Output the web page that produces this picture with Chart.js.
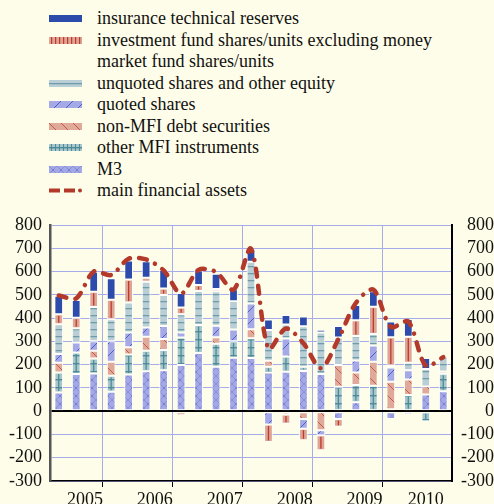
<!DOCTYPE html>
<html>
<head>
<meta charset="utf-8">
<script src="https://cdn.jsdelivr.net/npm/chart.js@4.4.1/dist/chart.umd.min.js"></script>
<style>
  html, body { margin: 0; padding: 0; background: #FEFDE9; }
  #wrap { position: relative; width: 494px; height: 504px; overflow: hidden; background: #FEFDE9;
          font-family: "Liberation Serif", "Times New Roman", serif; color: #111; }
  #legend { position: absolute; left: 0; top: 8px; font-size: 18px; line-height: 21.5px; }
  .row { position: relative; padding-left: 97px; white-space: nowrap; }
  .row canvas { position: absolute; left: 49px; top: 7px; }
  #chartBox { position: absolute; left: 0; top: 200px; width: 494px; height: 304px; }
</style>
</head>
<body>
<div id="wrap">
  <div id="legend"></div>
  <div id="chartBox"><canvas id="flowsChart"></canvas></div>
</div>
<script>
// quarterly flows, EUR billions
const quarters = [
  '2005 Q1', '2005 Q2', '2005 Q3', '2005 Q4',
  '2006 Q1', '2006 Q2', '2006 Q3', '2006 Q4',
  '2007 Q1', '2007 Q2', '2007 Q3', '2007 Q4',
  '2008 Q1', '2008 Q2', '2008 Q3', '2008 Q4',
  '2009 Q1', '2009 Q2', '2009 Q3', '2009 Q4',
  '2010 Q1', '2010 Q2', '2010 Q3'
];
const m3          = [80, 160, 162, 83, 158, 172, 176, 198, 250, 191, 230, 229, 166, 169, 173, 160, -34, 38, 0, -34, -14, 72, 86];
const otherMfi    = [86, 92, 64, 69, 86, 88, 87, 119, 120, 99, 70, 84, 25, 66, 18, 0, 105, 74, 109, 8, 69, -44, 75];
const nonMfiDebt  = [42, 0, 34, 60, 31, 60, 47, -18, 0, 28, -13, 39, 26, -14, -34, -82, 93, 54, 103, 118, 67, 35, 10];
const quoted      = [38, 43, 41, 88, 63, 40, 56, 21, 0, 49, 51, 111, -57, 77, -41, -21, 0, 52, 70, 62, 40, 0, 0];
const unquoted    = [128, 61, 147, 95, 129, 196, 133, 78, 146, 148, 121, 179, 132, 60, 174, 178, 119, 105, 50, 8, 32, 74, 63];
const invFund     = [42, 46, 65, 84, 99, 17, 28, 29, 26, 10, 0, 0, -75, -40, -50, -65, -33, 68, 117, 122, 112, 0, 0];
const insurance   = [80, 76, 86, 92, 81, 71, 80, 63, 63, 65, 52, 53, 45, 41, 42, 12, 49, 65, 66, 67, 76, 47, 0];
const mainAssets  = [497, 485, 600, 585, 655, 652, 605, 505, 607, 598, 522, 698, 268, 355, 292, 185, 310, 465, 522, 362, 385, 195, 232];

const yMin = -300, yMax = 800, yStep = 100;

const FONT = '"Liberation Serif", "Times New Roman", serif';
const gridColour = '#A6ABEA';
const lineColour = '#B3392B';

function makePattern(bg, size, draw) {
  const c = document.createElement('canvas');
  c.width = size; c.height = size;
  const g = c.getContext('2d');
  g.fillStyle = bg;
  g.fillRect(0, 0, size, size);
  if (draw) draw(g, size);
  return g.createPattern(c, 'repeat');
}
function diag(g, s, dir, colour, w) {
  g.strokeStyle = colour; g.lineWidth = w;
  g.beginPath();
  for (const o of [-s, 0, s]) {
    if (dir > 0) { g.moveTo(o, s); g.lineTo(o + s, 0); }
    else { g.moveTo(o, 0); g.lineTo(o + s, s); }
  }
  g.stroke();
}

const fills = {
  m3: makePattern('#A4A9E6', 8, (g, s) => {
    diag(g, s, 1, '#8189D8', 0.8); diag(g, s, -1, '#8189D8', 0.8);
    g.fillStyle = '#4453B8'; g.fillRect(3.5, 3.5, 1, 1);
  }),
  otherMfi: makePattern('#A8C7CD', 8, (g, s) => {
    g.fillStyle = '#4E8B96'; g.fillRect(0, 3, s, 1.4);
  }),
  nonMfi: makePattern('#E0AA9B', 12, (g, s) => diag(g, s, -1, '#C65A46', 1)),
  quoted: makePattern('#A5AAE6', 12, (g, s) => diag(g, s, 1, '#4F60C5', 1)),
  unquoted: makePattern('#BACED6', 7, (g, s) => {
    g.fillStyle = '#6F9CA9'; g.fillRect(0, 3, s, 1.3);
  }),
  invFund: '#DDA595',
  insurance: '#2C4BAA'
};

const series = [
  { key: 'insurance', label: 'insurance technical reserves', data: insurance },
  { key: 'invFund', label: 'investment fund shares/units excluding money market fund shares/units', data: invFund, centre: '#C0392B' },
  { key: 'unquoted', label: 'unquoted shares and other equity', data: unquoted },
  { key: 'quoted', label: 'quoted shares', data: quoted },
  { key: 'nonMfi', label: 'non-MFI debt securities', data: nonMfiDebt },
  { key: 'otherMfi', label: 'other MFI instruments', data: otherMfi, centre: '#4E8B96' },
  { key: 'm3', label: 'M3', data: m3 }
];

// legend (HTML text, canvas swatches)
const legend = document.getElementById('legend');
function addRow(text, paint) {
  const row = document.createElement('div');
  row.className = 'row';
  const sw = document.createElement('canvas');
  sw.width = 34; sw.height = 8;
  row.appendChild(sw);
  row.appendChild(document.createTextNode(text));
  legend.appendChild(row);
  paint(sw.getContext('2d'));
}
series.forEach(s => {
  if (s.key === 'invFund') {
    addRow('investment fund shares/units excluding money', g => {
      g.fillStyle = fills.invFund; g.fillRect(0, 0, 33, 7);
      g.fillStyle = '#C0392B';
      for (let x = 2; x < 33; x += 4) g.fillRect(x, 0, 1.2, 7);
    });
    const r = document.createElement('div');
    r.className = 'row';
    r.textContent = 'market fund shares/units';
    legend.appendChild(r);
    return;
  }
  addRow(s.label, g => {
    g.fillStyle = fills[s.key]; g.fillRect(0, 0, 33, 7);
    if (s.key === 'otherMfi') {
      g.fillStyle = '#4E8B96';
      for (let x = 2; x < 33; x += 4) g.fillRect(x, 0, 1, 7);
    }
  });
});
addRow('main financial assets', g => {
  g.fillStyle = lineColour;
  g.fillRect(0, 1.5, 11, 4); g.fillRect(15, 1.5, 11, 4);
  g.beginPath(); g.arc(31, 3.5, 2, 0, Math.PI * 2); g.fill();
});

// year grouping derived from the quarter labels
const yearOf = quarters.map(q => q.slice(0, 4));
const years = [...new Set(yearOf)];
const yearCentre = {};
const yearBounds = [];
years.forEach(y => {
  const first = yearOf.indexOf(y), last = yearOf.lastIndexOf(y);
  yearCentre[(first + last) / 2] = y;
  if (first > 0) yearBounds.push(first - 0.5);
});
const xTicks = [-0.5, quarters.length - 0.5, ...yearBounds, ...Object.keys(yearCentre).map(Number)].sort((a, b) => a - b);

const centreLines = {
  id: 'centreLines',
  afterDatasetDraw(chart, args) {
    const ds = chart.data.datasets[args.index];
    if (!ds.centreColour) return;
    const ctx = chart.ctx;
    ctx.save();
    ctx.strokeStyle = ds.centreColour;
    ctx.lineWidth = 1.3;
    args.meta.data.forEach(el => {
      const p = el.getProps(['x', 'y', 'base'], true);
      const top = Math.min(p.y, p.base) + 1.5, bot = Math.max(p.y, p.base) - 1.5;
      if (bot - top < 1) return;
      ctx.beginPath(); ctx.moveTo(p.x, top); ctx.lineTo(p.x, bot); ctx.stroke();
    });
    ctx.restore();
  }
};

const barSets = series.slice().reverse().map(s => ({
  type: 'bar',
  label: s.label,
  data: s.data.map((v, i) => ({ x: i, y: v === 0 ? null : v })),
  backgroundColor: fills[s.key],
  borderColor: '#FFFFFF',
  borderWidth: 1,
  borderSkipped: false,
  barPercentage: 0.5,
  categoryPercentage: 1,
  stack: 'assets',
  order: 2,
  centreColour: s.centre
}));

const tickFont = { family: FONT, size: 18 };

new Chart(document.getElementById('flowsChart'), {
  data: {
    datasets: [
      {
        type: 'line',
        label: 'main financial assets',
        data: mainAssets.map((v, i) => ({ x: i, y: v })),
        borderColor: lineColour,
        borderWidth: 4.5,
        borderDash: [8, 9, 8, 9, 0.01, 9],
        borderCapStyle: 'round',
        pointRadius: 0,
        tension: 0.3,
        stack: 'line',
        order: 1
      },
      ...barSets
    ]
  },
  options: {
    responsive: true,
    maintainAspectRatio: false,
    animation: false,
    layout: { padding: { top: 25, left: 0, right: 0, bottom: 0 } },
    plugins: { legend: { display: false }, tooltip: { enabled: false } },
    scales: {
      x: {
        type: 'linear',
        min: -0.5,
        max: quarters.length - 0.5,
        offset: false,
        stacked: true,
        afterBuildTicks: s => { s.ticks = xTicks.map(v => ({ value: v })); },
        afterFit: s => { s.height = 23; },
        ticks: {
          autoSkip: false, maxRotation: 0, padding: 2,
          color: '#111', font: tickFont,
          callback: v => yearCentre[v] || ''
        },
        grid: {
          color: c => yearBounds.includes(c.tick && c.tick.value) ? gridColour : 'rgba(0,0,0,0)',
          tickColor: c => yearBounds.includes(c.tick && c.tick.value) || (c.tick && (c.tick.value === -0.5)) ? '#000' : 'rgba(0,0,0,0)',
          tickLength: 6,
          lineWidth: 1
        },
        border: { color: '#000', width: 1.5 }
      },
      y: {
        position: 'left',
        stacked: true,
        min: yMin, max: yMax,
        afterFit: s => { s.width = 50; },
        ticks: { stepSize: yStep, autoSkip: false, color: '#111', font: tickFont, padding: 8 },
        grid: {
          color: c => c.tick && c.tick.value === 0 ? '#000' : gridColour,
          lineWidth: c => c.tick && c.tick.value === 0 ? 2 : 1,
          drawTicks: false
        },
        border: { color: '#555', width: 2.5 }
      },
      y2: {
        position: 'right',
        min: yMin, max: yMax,
        afterFit: s => { s.width = 42; },
        ticks: { stepSize: yStep, autoSkip: false, color: '#111', font: tickFont, padding: 0, crossAlign: 'far' },
        grid: { drawOnChartArea: false, drawTicks: false },
        border: { color: '#000', width: 2 }
      }
    }
  },
  plugins: [centreLines]
});
</script>
</body>
</html>
